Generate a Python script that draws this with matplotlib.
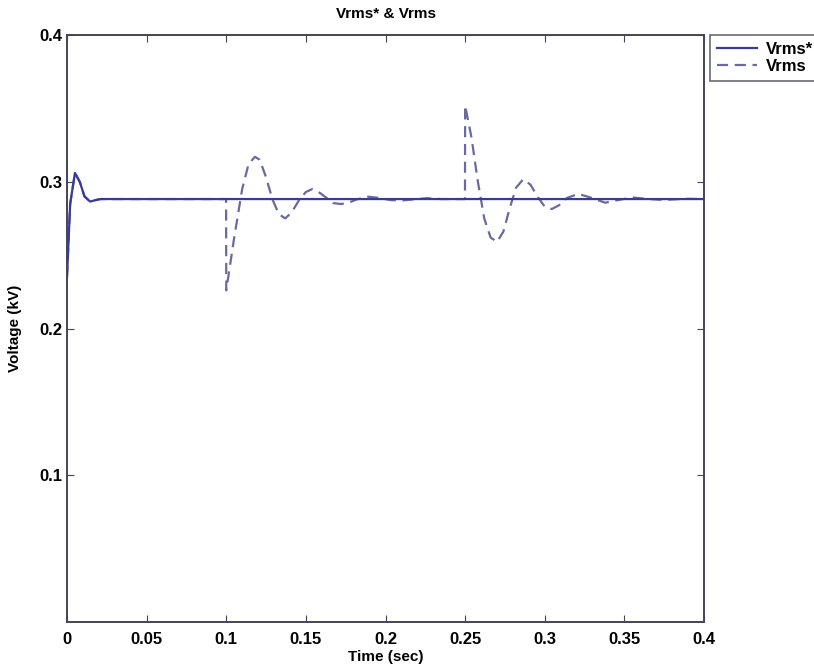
import matplotlib
matplotlib.use('Agg')
import matplotlib.pyplot as plt

# Vrms* (riferimento) - transitorio iniziale poi costante
t_ref = [0.000, 0.002, 0.005, 0.008, 0.011, 0.0145, 0.018, 0.021, 0.400]
v_ref = [0.235, 0.285, 0.306, 0.300, 0.290, 0.2865, 0.2875, 0.2882, 0.2882]

# Vrms (misurata) - disturbi a 0.1 s e 0.25 s
t_meas = [0.000, 0.002, 0.005, 0.008, 0.011, 0.0145, 0.018, 0.021,
          0.0999, 0.1000, 0.105, 0.110, 0.114, 0.118, 0.121, 0.125, 0.129,
          0.133, 0.137, 0.141, 0.146, 0.150, 0.154, 0.158, 0.163, 0.167,
          0.172, 0.177, 0.182, 0.189, 0.196, 0.203, 0.210, 0.218, 0.226,
          0.235, 0.2499, 0.2500, 0.254, 0.258, 0.262, 0.266, 0.270, 0.274,
          0.278, 0.282, 0.2865, 0.291, 0.296, 0.300, 0.3044, 0.309, 0.314,
          0.321, 0.328, 0.338, 0.346, 0.355, 0.365, 0.375, 0.388, 0.400]
v_meas = [0.235, 0.285, 0.306, 0.300, 0.290, 0.2865, 0.2875, 0.2882,
          0.2882, 0.226, 0.262, 0.295, 0.312, 0.317, 0.315, 0.303, 0.288,
          0.278, 0.275, 0.279, 0.288, 0.293, 0.295, 0.293, 0.289, 0.2855,
          0.2848, 0.2858, 0.288, 0.2898, 0.289, 0.2875, 0.2872, 0.288, 0.2888,
          0.2882, 0.2882, 0.352, 0.330, 0.300, 0.275, 0.262, 0.259, 0.266,
          0.282, 0.296, 0.3017, 0.298, 0.289, 0.283, 0.2814, 0.284, 0.289,
          0.2917, 0.2895, 0.2857, 0.2875, 0.2893, 0.2882, 0.2876, 0.2884, 0.2882]

x_ticks = [0, 0.05, 0.1, 0.15, 0.2, 0.25, 0.3, 0.35, 0.4]
x_labels = ['0', '0.05', '0.1', '0.15', '0.2', '0.25', '0.3', '0.35', '0.4']
y_ticks = [0.1, 0.2, 0.3, 0.4]
y_labels = ['0.1', '0.2', '0.3', '0.4']

plt.rcParams['font.family'] = ['Liberation Sans Narrow', 'Liberation Sans', 'DejaVu Sans']
plt.rcParams['font.weight'] = 'bold'

fig = plt.figure(figsize=(8.14, 6.70), dpi=100)
ax = fig.add_axes([0.0823, 0.0716, 0.7826, 0.8762])

ax.plot(t_meas, v_meas, color='#6a6a9e', lw=1.6, ls=(0, (5, 3)), label='Vrms')
ax.plot(t_ref, v_ref, color='#3a3a98', lw=1.6, label='Vrms*')

ax.set_xlim(0, 0.4)
ax.set_ylim(0, 0.4)
ax.set_xticks(x_ticks)
ax.set_xticklabels(x_labels)
ax.set_yticks(y_ticks)
ax.set_yticklabels(y_labels)
ax.tick_params(direction='in', top=True, right=True, labelsize=12, length=5,
               color='#444455')
ax.tick_params(axis='x', pad=7)
for s in ax.spines.values():
    s.set_color('#444455')
    s.set_linewidth(1.4)

ax.set_xlabel('Time (sec)', fontsize=11, fontweight='bold', labelpad=2)
ax.set_ylabel('Voltage (kV)', fontsize=11, fontweight='bold', labelpad=12)
ax.set_title('Vrms* & Vrms', fontsize=11, fontweight='bold', pad=12)

# Legenda fuori dal grafico, in alto a destra
h, l = ax.get_legend_handles_labels()
leg = ax.legend(h[::-1], l[::-1], loc='upper left', bbox_to_anchor=(1.01, 1.0),
                borderaxespad=0, fancybox=False, edgecolor='#444455',
                fontsize=12, handlelength=2.4, handletextpad=0.5,
                borderpad=0.4, labelspacing=0.15)
leg.get_frame().set_linewidth(1.2)

fig.savefig('out.png', dpi=100)
